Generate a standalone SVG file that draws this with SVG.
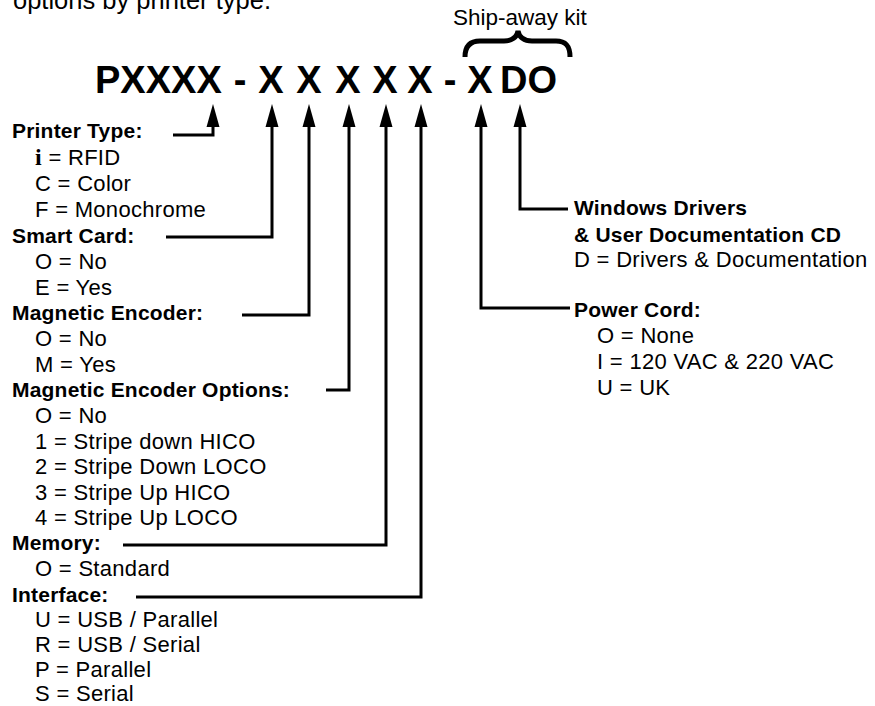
<svg xmlns="http://www.w3.org/2000/svg" width="875" height="706" viewBox="0 0 875 706">
<style>
text{font-family:"Liberation Sans",Arial,sans-serif;fill:#000}
.r{font-size:22px;letter-spacing:0.3px}
.b{font-size:21px;font-weight:bold;letter-spacing:0.2px}
.t{font-size:38px;font-weight:bold;text-anchor:middle}
.c{fill:none;stroke:#000;stroke-width:3;marker-end:url(#ah)}
</style>
<defs>
<marker id="ah" markerUnits="userSpaceOnUse" markerWidth="24" markerHeight="14" refX="1" refY="6.5" orient="auto" overflow="visible">
<path d="M0,0 L23,6.5 L0,13 Z" fill="#000"/>
</marker>
</defs>
<rect width="875" height="706" fill="#fff"/>
<text x="13" y="9" style="font-size:25.5px">options by printer type.</text>
<g id="ship-away-kit">
<text x="453" y="25" style="font-size:22.5px">Ship-away kit</text>
<path d="M465,57 C465,46 470,41 480,41 L504,41 C512,41 517,37 518,31 C519,37 524,41 532,41 L556,41 C566,41 570,46 570,57" fill="none" stroke="#000" stroke-width="5"/>
</g>
<g id="part-number">
<text x="95" y="93" class="t" style="text-anchor:start">PXXXX</text>
<text x="240" y="93" class="t">-</text>
<text x="271" y="93" class="t">X</text>
<text x="309" y="93" class="t">X</text>
<text x="348" y="93" class="t">X</text>
<text x="385" y="93" class="t">X</text>
<text x="420" y="93" class="t">X</text>
<text x="450" y="93" class="t">-</text>
<text x="480" y="93" class="t">X</text>
<text x="500" y="93" class="t" style="text-anchor:start">DO</text>
</g>
<g id="connectors">
<path class="c" d="M173,135 H213 V126"/>
<path class="c" d="M166,237 H272 V126"/>
<path class="c" d="M242,315 H309 V126"/>
<path class="c" d="M326,390 H349 V126"/>
<path class="c" d="M123,545 H386 V126"/>
<path class="c" d="M136,597 H421 V126"/>
<path class="c" d="M570,308 H481 V126"/>
<path class="c" d="M568,209 H520 V126"/>
</g>
<g id="printer-type">
<text x="12" y="138" class="b">Printer Type:</text>
<text x="35" y="164.5" class="r"><tspan style="font-family:'Liberation Serif',serif;font-weight:bold;font-size:24px">i</tspan> = RFID</text>
<text x="35" y="191" class="r">C = Color</text>
<text x="35" y="217" class="r">F = Monochrome</text>
</g>
<g id="smart-card">
<text x="12" y="243" class="b">Smart Card:</text>
<text x="35" y="269" class="r">O = No</text>
<text x="35" y="295" class="r">E = Yes</text>
</g>
<g id="magnetic-encoder">
<text x="12" y="320" class="b">Magnetic Encoder:</text>
<text x="35" y="346" class="r">O = No</text>
<text x="35" y="371.5" class="r">M = Yes</text>
</g>
<g id="magnetic-encoder-options">
<text x="12" y="396.5" class="b">Magnetic Encoder Options:</text>
<text x="35" y="423" class="r">O = No</text>
<text x="35" y="448.5" class="r">1 = Stripe down HICO</text>
<text x="35" y="474" class="r">2 = Stripe Down LOCO</text>
<text x="35" y="500" class="r">3 = Stripe Up HICO</text>
<text x="35" y="525" class="r">4 = Stripe Up LOCO</text>
</g>
<g id="memory">
<text x="12" y="550" class="b">Memory:</text>
<text x="35" y="576" class="r">O = Standard</text>
</g>
<g id="interface">
<text x="12" y="601.5" class="b">Interface:</text>
<text x="35" y="627" class="r">U = USB / Parallel</text>
<text x="35" y="652" class="r">R = USB / Serial</text>
<text x="35" y="677" class="r">P = Parallel</text>
<text x="35" y="701" class="r">S = Serial</text>
</g>
<g id="windows-drivers">
<text x="574" y="215" class="b">Windows Drivers</text>
<text x="574" y="241.5" class="b">&amp; User Documentation CD</text>
<text x="574" y="267" class="r">D = Drivers &amp; Documentation</text>
</g>
<g id="power-cord">
<text x="574" y="317" class="b">Power Cord:</text>
<text x="597" y="343" class="r">O = None</text>
<text x="597" y="369" class="r">I = 120 VAC &amp; 220 VAC</text>
<text x="597" y="395" class="r">U = UK</text>
</g>
</svg>
